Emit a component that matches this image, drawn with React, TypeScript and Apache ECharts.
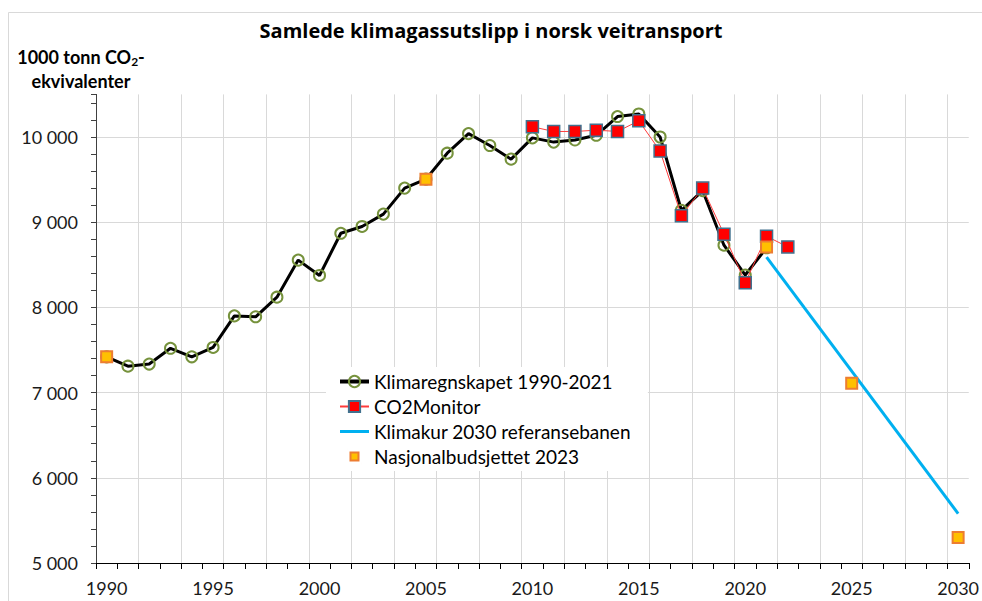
import React, { useEffect, useRef } from "react";
import * as echarts from "echarts";

const categories = [
  "1990", "1991", "1992", "1993", "1994", "1995", "1996", "1997", "1998", "1999",
  "2000", "2001", "2002", "2003", "2004", "2005", "2006", "2007", "2008", "2009",
  "2010", "2011", "2012", "2013", "2014", "2015", "2016", "2017", "2018", "2019",
  "2020", "2021", "2022", "2023", "2024", "2025", "2026", "2027", "2028", "2029", "2030",
];

const klimaYears = [
  1990, 1991, 1992, 1993, 1994, 1995, 1996, 1997, 1998, 1999, 2000, 2001, 2002, 2003, 2004, 2005,
  2006, 2007, 2008, 2009, 2010, 2011, 2012, 2013, 2014, 2015, 2016, 2017, 2018, 2019, 2020, 2021,
];
const klimaValues = [
  7420, 7310, 7335, 7520, 7420, 7530, 7900, 7890, 8120, 8555, 8375, 8870, 8950, 9095, 9400, 9505,
  9810, 10040, 9900, 9740, 9990, 9940, 9965, 10020, 10240, 10270, 10000, 9140, 9370, 8730, 8380, 8700,
];

const co2Years = [2010, 2011, 2012, 2013, 2014, 2015, 2016, 2017, 2018, 2019, 2020, 2021, 2022];
const co2Values = [10120, 10065, 10065, 10080, 10065, 10190, 9835, 9075, 9400, 8860, 8290, 8835, 8710];

const klimakurYears = [2021, 2030];
const klimakurValues = [8590, 5580];

const nbYears = [1990, 2005, 2021, 2025, 2030];
const nbValues = [7420, 9505, 8710, 7110, 5300];

const yMin = 5000;
const yMax = 10500;
const yMinorStep = 200;
const yLabelStep = 1000;
const yLastLabel = 10000;

const FONT = "Lato, 'Open Sans', sans-serif";

function pairs(years: number[], values: number[]) {
  return years.map((y, i) => [categories.indexOf(String(y)), values[i]]);
}

function fmt(v: number) {
  return String(v).replace(/\B(?=(\d{3})+(?!\d))/g, " ");
}

export default function App() {
  const ref = useRef<HTMLDivElement>(null);

  useEffect(() => {
    document.body.style.margin = "0";
    if (!ref.current) return;
    const chart = echarts.init(ref.current, undefined, { renderer: "svg" });
    const hGridColors: string[] = [];
    for (let v = yMin; v < yMax; v += yMinorStep) {
      hGridColors.push(v % yLabelStep === 0 && v <= yLastLabel ? "#D9D9D9" : "rgba(0,0,0,0)");
    }
    hGridColors.push("rgba(0,0,0,0)");
    const vGridColors = categories
      .filter((_, i) => i % 2 === 0)
      .map(() => "#D9D9D9")
      .concat(["rgba(0,0,0,0)"]);
    chart.setOption({
      animation: false,
      backgroundColor: "#fff",
      textStyle: { fontFamily: FONT },
      title: {
        text: "Samlede klimagassutslipp i norsk veitransport",
        left: "center",
        top: 15,
        textStyle: { fontFamily: "'Open Sans', Lato, sans-serif", fontSize: 20, fontWeight: "bold", color: "#000" },
      },
      graphic: [
        {
          type: "rect",
          shape: { x: 8.5, y: 12.5, width: 1000, height: 1000 },
          style: { fill: "none", stroke: "#D9D9D9", lineWidth: 1 },
          silent: true,
          z: -10,
        },
        {
          type: "text",
          x: 81,
          y: 45,
          style: {
            text: "{b|1000 tonn CO}{s|2}{b|-}\n{b|ekvivalenter}",
            align: "center",
            verticalAlign: "top",
            rich: {
              b: { fontFamily: FONT, fontSize: 18, fontWeight: "bold", fill: "#000", lineHeight: 24 },
              s: { fontFamily: FONT, fontSize: 12, fontWeight: "bold", fill: "#000", lineHeight: 12, padding: [9, 0, 0, 0] },
            },
          },
        },
      ],
      legend: {
        orient: "vertical",
        left: 326,
        top: 367,
        padding: [5, 17, 5, 12],
        backgroundColor: "#fff",
        itemWidth: 29,
        itemHeight: 14,
        itemGap: 6,
        textStyle: { fontFamily: FONT, fontSize: 19, color: "#000" },
        data: [
          { name: "Klimaregnskapet 1990-2021", lineStyle: { width: 4 } },
          { name: "CO2Monitor" },
          { name: "Klimakur 2030 referansebanen", itemStyle: { opacity: 0 }, lineStyle: { width: 3 } },
          {
            name: "Nasjonalbudsjettet 2023",
            icon: "path://M0,0L0.01,0M3,3L11,3L11,11L3,11ZM14,14L13.99,14",
          },
        ],
      },
      grid: { left: 96, right: 13, top: 94.4, bottom: 38, containLabel: false },
      xAxis: {
        type: "category",
        data: categories,
        boundaryGap: true,
        axisLine: { show: true, lineStyle: { color: "#000", width: 1 } },
        axisTick: { show: true, interval: 0, length: 6, lineStyle: { color: "#000" } },
        axisLabel: {
          interval: 4,
          margin: 16,
          fontFamily: FONT,
          fontSize: 18,
          color: "#1a1a1a",
        },
        splitLine: {
          show: true,
          interval: 1,
          showMaxLine: false,
          lineStyle: { color: vGridColors, width: 1 },
        },
      },
      yAxis: {
        type: "value",
        min: yMin,
        max: yMax,
        interval: yMinorStep,
        axisLine: { show: true, lineStyle: { color: "#404040", width: 1 } },
        axisTick: { show: true, length: 5, lineStyle: { color: "#404040" } },
        axisLabel: {
          margin: 18,
          fontFamily: FONT,
          fontSize: 18,
          color: "#1a1a1a",
          formatter: (v: number) => (v % yLabelStep === 0 && v <= yLastLabel ? fmt(v) : ""),
        },
        splitLine: { show: true, showMaxLine: false, lineStyle: { color: hGridColors, width: 1 } },
      },
      series: [
        {
          name: "Klimaregnskapet 1990-2021",
          type: "line",
          data: pairs(klimaYears, klimaValues),
          symbol: "circle",
          symbolSize: 11,
          lineStyle: { color: "#000", width: 3 },
          itemStyle: { color: "rgba(255,255,255,0)", borderColor: "#76923C", borderWidth: 2 },
          z: 2,
        },
        {
          name: "CO2Monitor",
          type: "line",
          data: pairs(co2Years, co2Values),
          symbol: "rect",
          symbolSize: 12,
          lineStyle: { color: "#FF3B3B", width: 1 },
          itemStyle: { color: "#FF0000", borderColor: "#41718E", borderWidth: 1.5 },
          z: 3,
        },
        {
          name: "Klimakur 2030 referansebanen",
          type: "line",
          data: pairs(klimakurYears, klimakurValues),
          symbol: "none",
          lineStyle: { color: "#00B0F0", width: 3 },
          itemStyle: { color: "#00B0F0" },
          z: 4,
        },
        {
          name: "Nasjonalbudsjettet 2023",
          type: "scatter",
          data: pairs(nbYears, nbValues),
          symbol: "rect",
          symbolSize: 11,
          itemStyle: { color: "#FFC000", borderColor: "#ED7D31", borderWidth: 2, opacity: 1 },
          z: 5,
        },
      ],
    });
    return () => chart.dispose();
  }, []);

  return <div ref={ref} style={{ width: 982, height: 601 }} />;
}
